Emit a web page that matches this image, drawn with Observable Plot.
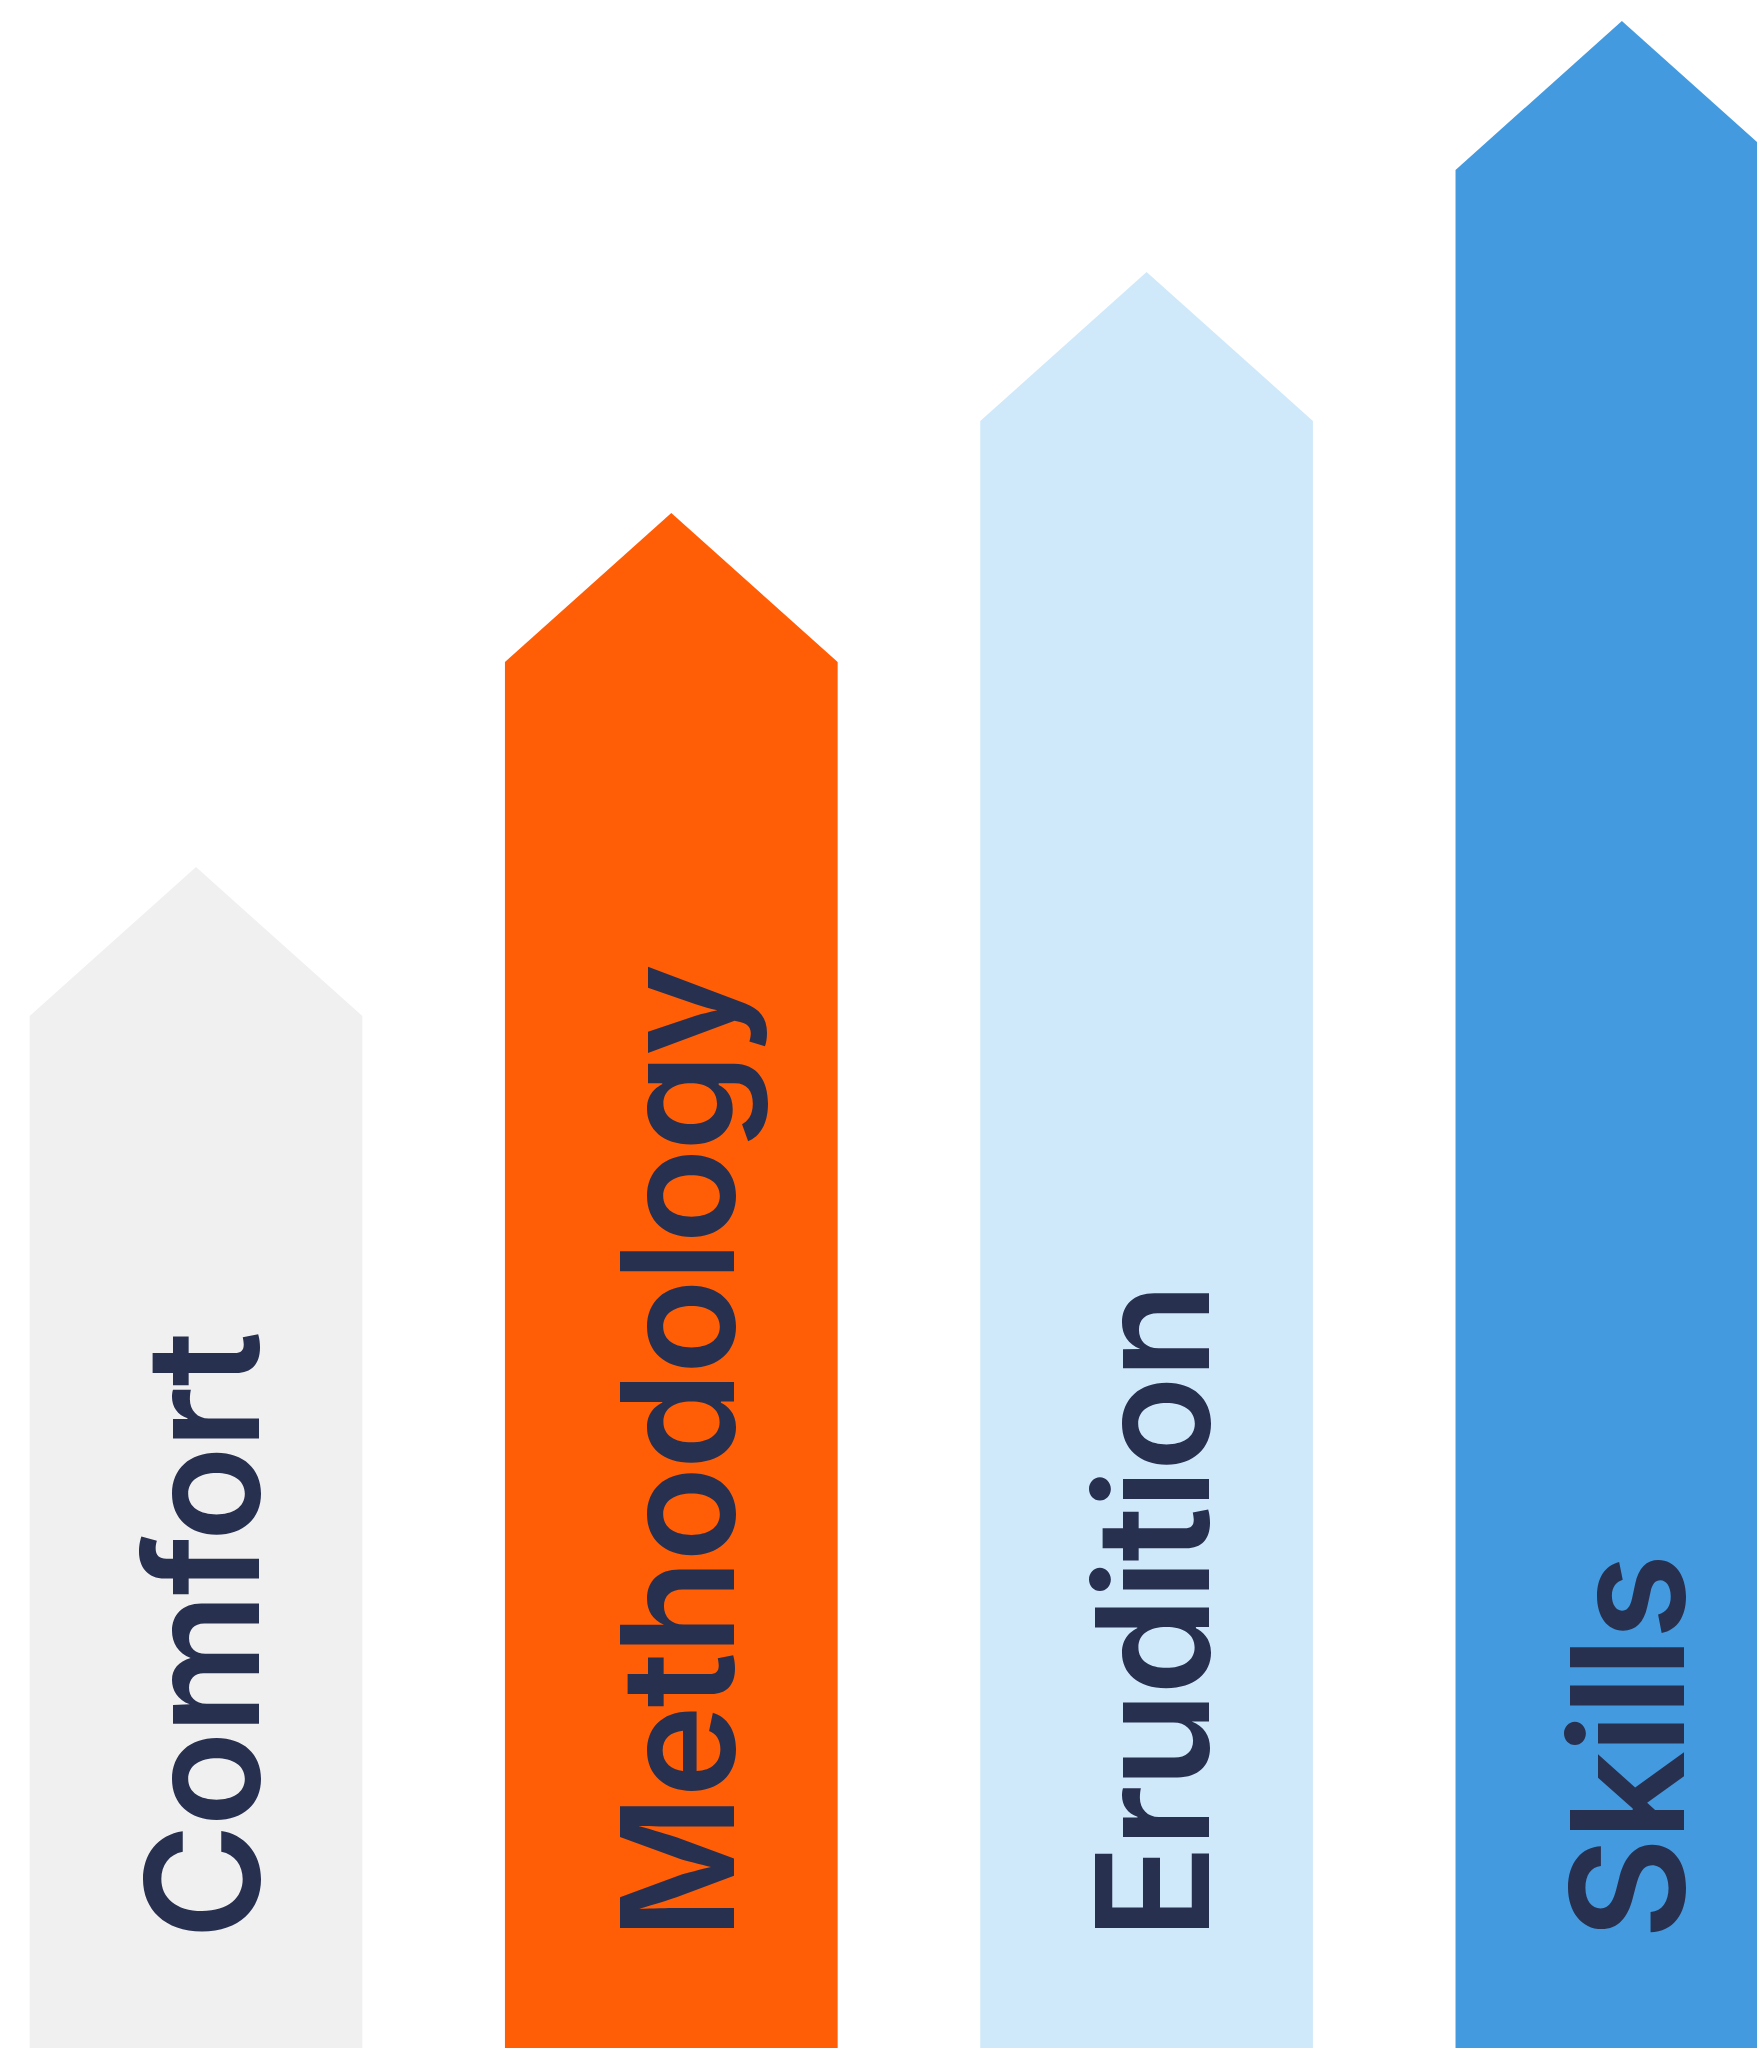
<!DOCTYPE html>
<html>
<head>
<meta charset="utf-8">
<script src="https://cdn.jsdelivr.net/npm/d3@7"></script>
<script src="https://cdn.jsdelivr.net/npm/@observablehq/plot@0.6"></script>
<style>
  html, body { margin: 0; padding: 0; background: #ffffff; overflow: hidden; }
  #chart svg { display: block; }
  #chart text { letter-spacing: -3px; }
</style>
</head>
<body>
<div id="chart"></div>
<script>
// ---- data ----
const categories = ["Comfort", "Methodology", "Erudition", "Skills"];
const values = [1032, 1386, 1627, 1878];   // height of each arrow's shoulder
const headSize = 149;                       // arrow head height, same units

// ---- build arrow outlines (shoulder-left, tip, shoulder-right) from the data ----
const halfWidth = 0.35;
const outline = categories.flatMap((c, i) => [
  { category: c, pos: i - halfWidth, top: values[i] },
  { category: c, pos: i,             top: values[i] + headSize },
  { category: c, pos: i + halfWidth, top: values[i] }
]);
const labels = categories.map((c, i) => ({ category: c, pos: i }));

const chart = Plot.plot({
  width: 1757,
  height: 2048,
  margin: 0,
  style: { background: "#ffffff" },
  x: { type: "linear", domain: [-0.4124, 3.2843], axis: null },
  y: { domain: [0, 2048], axis: null },
  color: {
    domain: categories,
    range: ["#f0f0f0", "#ff5e07", "#d0e9fa", "#449adf"]
  },
  marks: [
    Plot.areaY(outline, {
      x: "pos", y1: 0, y2: "top", z: "category", fill: "category",
      curve: "linear", clip: true
    }),
    Plot.text(labels, {
      x: "pos",
      frameAnchor: "bottom",
      text: "category",
      rotate: -90,
      textAnchor: "start",
      lineAnchor: "bottom",
      dx: 62,
      dy: -109,
      fontSize: 157,
      fontWeight: 600,
      fontFamily: "Inter, 'Noto Sans', sans-serif",
      fill: "#283050"
    })
  ]
});
document.getElementById("chart").appendChild(chart);
</script>
</body>
</html>
